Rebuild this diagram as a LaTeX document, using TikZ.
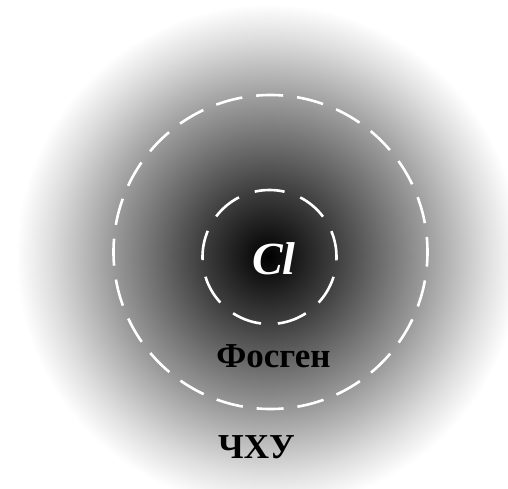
\documentclass[tikz,border=0pt]{standalone}
\usepackage{fontspec}
\setmainfont{Liberation Serif}
\usepackage{tikz}

% stops as pgf scales them: 25bp is the edge of the haze
\pgfdeclareradialshading{haze}{\pgfpoint{0bp}{0bp}}{%
  color(0bp)=(black); color(6.75bp)=(black!75); color(15.4bp)=(black!40);
  color(21.6bp)=(black!13); color(25bp)=(white); color(50bp)=(white)}

\tikzset{
  shell/.style={draw=white,line width=2.6pt},
  label/.style={inner sep=0pt,anchor=base,font=\bfseries}
}

\begin{document}
\begin{tikzpicture}[x=1pt,y=-1pt]
  \useasboundingbox (0,0) rectangle (508,489);
  \fill[white] (0,0) rectangle (508,489);
  \coordinate (core) at (268,256);
  \shade[shading=haze] (core) circle (252pt);

  \draw[shell,dash pattern=on 27pt off 14pt,dash phase=12pt] (270.5,252) circle (157pt);
  \draw[shell,dash pattern=on 30pt off 16.8pt,dash phase=3.5pt] (269.5,257) circle (67pt);

  \node[label,text=white,font=\bfseries\itshape\fontsize{46}{46}\selectfont] (cl) at (274,274) {Cl};
  \node[label,font=\bfseries\fontsize{35}{35}\selectfont] (phosgene) at (273.5,367) {Фосген};
  \node[label,font=\bfseries\fontsize{35}{35}\selectfont] (chu) at (256.5,458) {ЧХУ};
\end{tikzpicture}
\end{document}
